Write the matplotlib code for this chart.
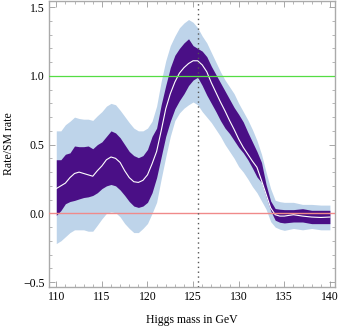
import matplotlib.pyplot as plt
from matplotlib.ticker import MultipleLocator

plt.rcParams['font.family'] = ['Liberation Serif', 'DejaVu Serif']

# Higgs mass grid (GeV)
mass = [110, 110.5, 111, 111.5, 112, 112.5, 113, 113.5, 114, 114.5, 115,
        115.5, 116, 116.5, 117, 117.5, 118, 118.5, 119, 119.5, 120, 120.5,
        121, 121.5, 122, 122.5, 123, 123.5, 124, 124.5, 125, 125.5, 126,
        126.5, 127, 127.5, 128, 128.5, 129, 129.5, 130, 130.5, 131, 131.5,
        132, 132.5, 133, 133.5, 134, 134.5, 135, 136, 137, 138, 139, 140]

# best fit rate / SM rate
central = [0.18, 0.20, 0.22, 0.26, 0.29, 0.30, 0.29, 0.28, 0.27, 0.31, 0.345,
           0.39, 0.41, 0.40, 0.37, 0.31, 0.26, 0.23, 0.225, 0.24, 0.28, 0.36,
           0.45, 0.60, 0.76, 0.87, 0.955, 1.02, 1.06, 1.09, 1.11, 1.11, 1.08,
           1.03, 0.95, 0.88, 0.81, 0.745, 0.675, 0.61, 0.54, 0.48, 0.43, 0.38,
           0.335, 0.24, 0.14, 0.04, -0.01, -0.02, -0.02, -0.01, -0.02, -0.027,
           -0.03, -0.027]

# 1 sigma band
dark_hi = [0.39, 0.39, 0.43, 0.44, 0.49, 0.485, 0.485, 0.49, 0.47, 0.50, 0.52,
           0.56, 0.60, 0.585, 0.55, 0.50, 0.45, 0.42, 0.405, 0.42, 0.465,
           0.56, 0.62, 0.79, 0.93, 1.06, 1.15, 1.20, 1.24, 1.27, 1.22, 1.20,
           1.18, 1.14, 1.07, 1.01, 0.95, 0.89, 0.83, 0.77, 0.72, 0.665, 0.59,
           0.52, 0.45, 0.37, 0.21, 0.09, 0.035, 0.03, 0.027, 0.027, 0.034,
           0.022, 0.022, 0.022]
dark_lo = [-0.015, 0.02, 0.07, 0.086, 0.094, 0.105, 0.115, 0.12, 0.13, 0.15,
           0.18, 0.20, 0.21, 0.20, 0.17, 0.13, 0.086, 0.053, 0.043, 0.053,
           0.08, 0.15, 0.26, 0.41, 0.56, 0.67, 0.76, 0.82, 0.87, 0.93, 0.97,
           0.99, 0.93, 0.86, 0.80, 0.74, 0.675, 0.62, 0.58, 0.53, 0.48, 0.44,
           0.39, 0.33, 0.265, 0.225, 0.12, 0.02, -0.05, -0.065, -0.07, -0.063,
           -0.063, -0.075, -0.075, -0.075]

# 2 sigma band
light_hi = [0.60, 0.60, 0.645, 0.67, 0.70, 0.69, 0.685, 0.685, 0.676, 0.71,
            0.74, 0.78, 0.80, 0.79, 0.75, 0.705, 0.66, 0.62, 0.60, 0.60, 0.62,
            0.67, 0.78, 0.96, 1.11, 1.22, 1.29, 1.35, 1.385, 1.41, 1.39, 1.35,
            1.29, 1.24, 1.17, 1.10, 1.03, 0.97, 0.92, 0.87, 0.80, 0.74, 0.68,
            0.61, 0.53, 0.43, 0.30, 0.18, 0.095, 0.085, 0.08, 0.08, 0.065,
            0.065, 0.06, 0.06]
light_lo = [-0.22, -0.20, -0.17, -0.14, -0.12, -0.12, -0.12, -0.13, -0.13,
            -0.086, -0.04, 0.0, 0.01, 0.005, -0.026, -0.074, -0.11, -0.14,
            -0.14, -0.11, -0.074, 0.0, 0.08, 0.25, 0.41, 0.56, 0.675, 0.73,
            0.765, 0.79, 0.81, 0.79, 0.74, 0.70, 0.66, 0.61, 0.56, 0.50, 0.45,
            0.40, 0.34, 0.30, 0.25, 0.195, 0.15, 0.09, 0.03, -0.06, -0.10,
            -0.115, -0.124, -0.11, -0.12, -0.11, -0.12, -0.12]

higgs_mass = 125.5

fig = plt.figure(figsize=(3.39, 3.27), dpi=100)
ax = fig.add_axes([0.1445, 0.1223, 0.8435, 0.8747])

ax.fill_between(mass, light_lo, light_hi, color='#bed4ea', lw=0, zorder=1)
ax.fill_between(mass, dark_lo, dark_hi, color='#4a0f86', lw=0, zorder=2)
ax.plot(mass, central, color='white', lw=0.8, zorder=3)

ax.axhline(1.0, color='#55dd44', lw=0.9, zorder=4)
ax.axhline(0.0, color='#f08a8a', lw=1.0, zorder=4)
ax.axvline(higgs_mass, color='#555555', lw=1.0, ls=(0, (1, 2.5)), zorder=5)

ax.set_xlim(109.2, 140.55)
ax.set_ylim(-0.536, 1.545)

ax.xaxis.set_major_locator(MultipleLocator(5))
ax.xaxis.set_minor_locator(MultipleLocator(1))
ax.yaxis.set_major_locator(MultipleLocator(0.5))
ax.yaxis.set_minor_locator(MultipleLocator(0.1))
ax.yaxis.set_major_formatter(plt.FuncFormatter(
    lambda v, p: ('%.1f' % v).replace('-', '\u2212')))

ax.tick_params(which='both', direction='in', top=True, right=True,
               color='#999999', labelsize=8.5, pad=3)
ax.tick_params(which='major', length=4, width=0.6)
ax.tick_params(which='minor', length=2, width=0.5)
for s in ax.spines.values():
    s.set_color('#aaaaaa')
    s.set_linewidth(1.0)

ax.set_xlabel('Higgs mass in GeV', fontsize=8.5, labelpad=8)
ax.set_ylabel('Rate/SM rate', fontsize=8.5, labelpad=6)

fig.savefig('out.png', dpi=100)
